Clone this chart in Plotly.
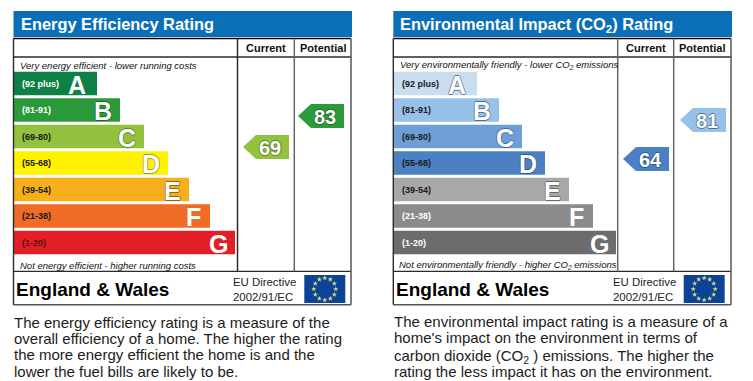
import math
import plotly.graph_objects as go

W, H = 753, 381
BANDS = ["A", "B", "C", "D", "E", "F", "G"]
RANGES = ["(92 plus)", "(81-91)", "(69-80)", "(55-68)", "(39-54)", "(21-38)", "(1-20)"]

EE_LENGTHS = [83, 106, 130, 154, 175, 196, 221]
EE_COLORS = ["#0d8046", "#2b9a3a", "#92c13e", "#fff200", "#f9ae1c", "#ef6c26", "#e21f26"]
EE_RANGE_COLORS = ["#fff", "#fff", "#1a1a1a", "#1a1a1a", "#1a1a1a", "#1a1a1a", "#5a0f12"]
EE_OUTLINES = [None, "#1f6b2c", "#62802c", "#a89c18", "#8f6512", None, None]
EE_CURRENT, EE_POTENTIAL = 69, 83

EI_LENGTHS = [83, 105, 128, 151, 175, 199, 222]
EI_COLORS = ["#c9ddf1", "#98c1ea", "#6d9fd6", "#4b80c2", "#a8a8a8", "#8b8b8b", "#6c6c6c"]
EI_RANGE_COLORS = ["#1a1a1a", "#1a1a1a", "#1a1a1a", "#1a1a1a", "#1a1a1a", "#fff", "#fff"]
EI_OUTLINES = ["#66788c", "#4f6f95", "#456f9f", "#2f5a90", "#6a6a6a", None, None]
EI_CURRENT, EI_POTENTIAL = 64, 81

EE_TEXT = ["The energy efficiency rating is a measure of the",
           "overall efficiency of a home. The higher the rating",
           "the more energy efficient the home is and the",
           "lower the fuel bills are likely to be."]
EI_TEXT = ["The environmental impact rating is a measure of a",
           "home's impact on the environment in terms of",
           "carbon dioxide (CO<sub>2</sub> ) emissions. The higher the",
           "rating the less impact it has on the environment."]

FONT = "Liberation Sans"
BLUE = "#0b6fb8"
LINE = "#2b2b2b"
GREY = "#666666"


def outline(c):
    return "0.8px 0 0 {0}, -0.8px 0 0 {0}, 0 0.8px 0 {0}, 0 -0.8px 0 {0}".format(c)


fig = go.Figure()
shapes, notes = [], []


def note(x, y, text, size, color="#111", bold=False, italic=False, anchor="left"):
    notes.append(dict(xref="x3", yref="y3", x=x, y=y, text=text, showarrow=False, xanchor=anchor,
                      yanchor="middle", align=anchor, borderpad=0,
                      font=dict(family=FONT, size=size, color=color,
                                weight="bold" if bold else "normal",
                                style="italic" if italic else "normal")))


def glyph(xref, yref, x, y, text, size, color, o=None, anchor="center", shift=0):
    notes.append(dict(xref=xref, yref=yref, x=x, y=y, text=text, showarrow=False, xanchor=anchor,
                      yanchor="middle", borderpad=0, yshift=shift,
                      font=dict(family=FONT, size=size, color=color, weight="bold",
                                shadow=outline(o) if o else "none")))


def line(x0, y0, x1, y1, w=1.4, c=LINE):
    shapes.append(dict(type="line", xref="x3", yref="y3", x0=x0, y0=y0, x1=x1, y1=y1,
                       line=dict(color=c, width=w)))


def panel(ox, xa, ya, ra, title, top, bottom, lengths, colors, rcolors, outlines, cur, pot,
          cur_out, pot_out, cols, body, by, c1col, title_y):
    xl, c1, c2, xr = ox
    shapes.append(dict(type="rect", xref="x3", yref="y3", x0=xl, x1=xr + 1, y0=11, y1=37,
                       fillcolor=BLUE, line_width=0, layer="below"))
    note(xl + 6, title_y, title, 16.4, "#fff", bold=True)
    line(xl, 38.5, xr, 38.5, 1.5, "#000")
    line(xl, 57, xr, 57, 1.3)
    line(xl, 271.3, xr, 271.3, 1.3)
    line(xl, 304.7, xr, 304.7, 1.6, "#555")
    line(xl, 38.5, xl, 304.7)
    line(xr, 38.5, xr, 304.7, 1.5, "#555")
    line(c1, 38.5, c1, 271.3, 1.5, c1col)
    line(c2, 38.5, c2, 271.3, 1.5, GREY)
    note((c1 + c2) / 2, 48, "Current", 11, "#111", bold=True, anchor="center")
    note((c2 + xr) / 2, 48, "Potential", 11, "#111", bold=True, anchor="center")
    note(xl + 5.5, 65, top, 9.5, "#111", italic=True)
    note(xl + 5, 265, bottom, 9.5, "#111", italic=True)
    note(xl + 1.5, 289.5, "England &amp; Wales", 19, "#000", bold=True)
    note(c1 - 6, 282, "EU Directive", 11.4, "#222")
    note(c1 - 6, 297, "2002/91/EC", 11.4, "#222")
    fx0, fx1 = c2 + 10, c2 + 51
    shapes.append(dict(type="rect", xref="x3", yref="y3", x0=fx0, x1=fx1, y0=275, y1=303,
                       fillcolor="#0c4396", line_width=0, layer="below"))
    cx, cy = (fx0 + fx1) / 2, 289
    fig.add_trace(go.Scatter(
        x=[cx + 11 * math.sin(i * math.pi / 6) for i in range(12)],
        y=[cy - 11 * math.cos(i * math.pi / 6) for i in range(12)],
        xaxis="x3", yaxis="y3", mode="markers",
        marker=dict(symbol="star", size=4, color="#dfe27a", line_width=0)))
    fig.add_trace(go.Bar(x=lengths, y=BANDS, orientation="h", xaxis=xa, yaxis=ya,
                         marker=dict(color=colors, line_width=0), width=24 / 27))
    for b, r, rc in zip(BANDS, RANGES, rcolors):
        glyph(xa, ya, 7, b, r, 9, rc, anchor="left", shift=0)
    for b, v, o in zip(BANDS, lengths, outlines):
        glyph(xa, ya, v - (20 if b == "A" else 17), b, b, 25, "#fff", o, shift=-1)
    for r, col, o, (tip, bx, rx) in zip((cur, pot), cols, (cur_out, pot_out), body):
        dy = 12 / by
        fig.add_trace(go.Scatter(x=[tip, bx, rx, rx, bx, tip], y=[r, r + dy, r + dy, r - dy, r - dy, r],
                                 xaxis="x3", yaxis=ra, mode="lines", fill="toself", fillcolor=col,
                                 line_width=0))
        glyph("x3", ra, (tip + rx) / 2 + 4, r, str(r), 20, "#fff", o, shift=-1)


panel((13.5, 237.5, 294.3, 351), "x", "y", "y4", "Energy Efficiency Rating",
      "Very energy efficient - lower running costs", "Not energy efficient - higher running costs",
      EE_LENGTHS, EE_COLORS, EE_RANGE_COLORS, EE_OUTLINES, EE_CURRENT, EE_POTENTIAL, "#62802c", "#1f6b2c",
      (EE_COLORS[2], EE_COLORS[1]), ((243, 256, 289), (298, 311, 344)), 2.214, LINE, 24)
panel((393.3, 617.7, 673.7, 731), "x2", "y2", "y5", "Environmental Impact (CO<sub>2</sub>) Rating",
      "Very environmentally friendly - lower CO<sub>2</sub> emissions",
      "Not environmentally friendly - higher CO<sub>2</sub> emissions",
      EI_LENGTHS, EI_COLORS, EI_RANGE_COLORS, EI_OUTLINES, EI_CURRENT, EI_POTENTIAL, "#2f5a90", "#4f6f95",
      (EI_COLORS[3], EI_COLORS[1]), ((623, 636, 669), (680, 693, 726)), 2.294, GREY, 25)

for i, t in enumerate(EE_TEXT):
    note(13, [322, 338, 354, 371][i], t, 15, "#1c1c1c")
for i, t in enumerate(EI_TEXT):
    note(393, [321, 337, 356, 371][i], t, 15, "#1c1c1c")

ydom = [1 - 258.5 / H, 1 - 69.5 / H]
hidden = dict(visible=False, fixedrange=True)
fig.update_layout(
    width=W, height=H, autosize=False, margin=dict(l=0, r=0, t=0, b=0), showlegend=False,
    paper_bgcolor="#fff", plot_bgcolor="rgba(0,0,0,0)", barmode="overlay",
    xaxis=dict(hidden, domain=[14 / W, 238 / W], range=[0, 224], anchor="y"),
    yaxis=dict(hidden, domain=ydom, type="category", categoryorder="array", categoryarray=BANDS[::-1], anchor="x"),
    xaxis2=dict(hidden, domain=[394 / W, 618 / W], range=[0, 224], anchor="y2"),
    yaxis2=dict(hidden, domain=ydom, type="category", categoryorder="array", categoryarray=BANDS[::-1], anchor="x2"),
    xaxis3=dict(hidden, domain=[0, 1], range=[0, W], anchor="y3"),
    yaxis3=dict(hidden, domain=[0, 1], range=[H, 0], anchor="x3"),
    yaxis4=dict(hidden, domain=ydom, range=[18.64, 104], anchor="x3"),
    yaxis5=dict(hidden, domain=ydom, range=[20.63, 103.01], anchor="x3"),
    shapes=shapes, annotations=notes,
)
fig.write_html("out.html", config=dict(displayModeBar=False),
               post_script="document.body.style.margin='0';document.documentElement.style.overflow='hidden';")
